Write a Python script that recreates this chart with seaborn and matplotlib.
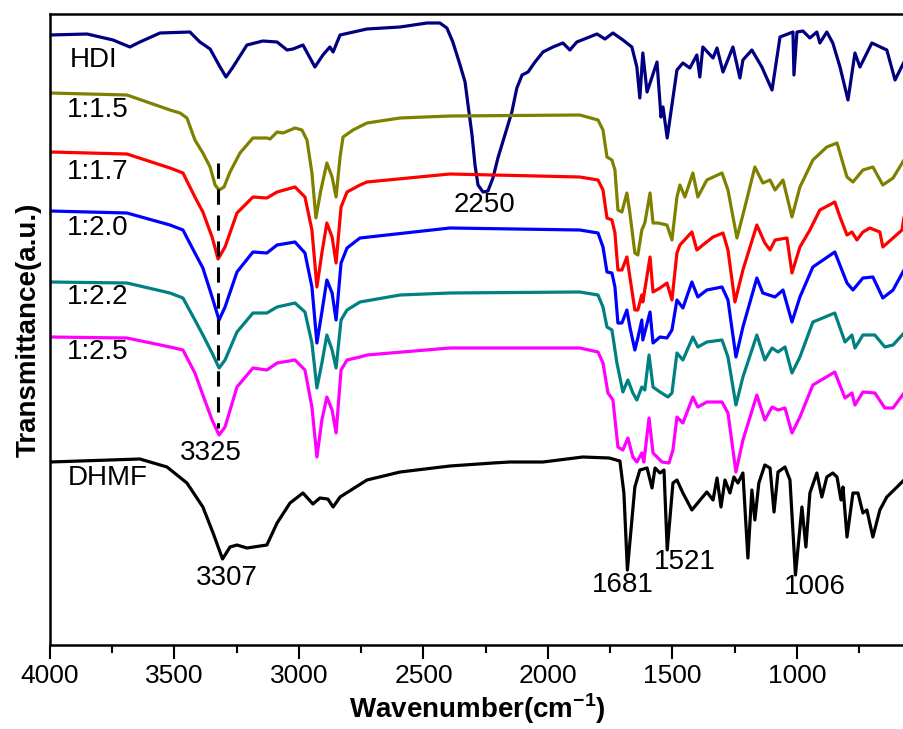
import numpy as np
import seaborn as sns
from matplotlib import pyplot as plt
from matplotlib.ticker import MultipleLocator

# FTIR spectra, wavenumber (cm-1) vs transmittance (a.u., stacked)
hdi_wn = [4000, 3851, 3747, 3679, 3639, 3558, 3438, 3398, 3357, 3317, 3293, 3265, 3209, 3145, 3088, 3048,
          3024, 2984, 2936, 2904, 2876, 2863, 2835, 2727, 2594, 2486, 2434, 2406, 2382, 2353, 2333, 2321,
          2305, 2293, 2281, 2261, 2241, 2221, 2201, 2173, 2145, 2125, 2104, 2080, 2052, 2020, 1980, 1940,
          1912, 1884, 1803, 1771, 1739, 1699, 1663, 1643, 1631, 1619,
          1602, 1590, 1562, 1546, 1538, 1521, 1482, 1458, 1430, 1402, 1390, 1378, 1337, 1321, 1297, 1257,
          1229, 1217, 1181, 1141, 1100, 1068, 1016, 1012, 1000, 976, 948, 920, 908, 880, 856, 827, 795,
          767, 747, 699, 639, 606, 570]
hdi_t = [610, 611, 605, 598, 603, 612, 613, 603, 596, 578, 568, 578, 600, 604, 603, 595,
         596, 600, 578, 590, 598, 593, 610, 616, 618, 622, 622, 617, 603, 580, 563, 540,
         510, 480, 460, 453, 454, 467, 487, 510, 533, 557, 570, 573, 583, 593, 598, 602,
         595, 603, 611, 606, 612, 605, 598, 578, 547, 592,
         553, 562, 583, 528, 538, 507, 575, 582, 577, 590, 568, 598, 587, 597, 573, 598,
         567, 585, 595, 578, 555, 608, 613, 570, 613, 614, 607, 613, 602, 613, 602, 578, 545,
         592, 578, 602, 595, 565, 583]

r15_wn = [4000, 3691, 3518, 3478, 3450, 3418, 3386, 3357, 3337, 3321, 3301, 3277, 3237, 3185, 3129, 3116,
          3088, 3064, 3016, 2988, 2968, 2948, 2932, 2912, 2888, 2867, 2851, 2835, 2823, 2783, 2727, 2594,
          2394, 1872, 1799, 1779, 1763, 1743, 1731, 1719, 1703, 1683, 1671, 1651, 1639, 1623, 1611, 1590,
          1578, 1558, 1522, 1502, 1482, 1470, 1450, 1418, 1398, 1362, 1301, 1277, 1241, 1209, 1169, 1137,
          1108, 1088, 1056, 1020, 988, 936, 880, 839, 799, 775, 735, 695, 655, 614, 570]
r15_t = [552, 550, 535, 532, 527, 505, 492, 478, 460, 455, 458, 473, 492, 507, 507, 506,
         513, 512, 517, 515, 505, 472, 427, 455, 482, 468, 448, 488, 508, 515, 522, 527,
         529, 530, 525, 515, 488, 485, 475, 435, 433, 452, 432, 392, 390, 415, 422, 452,
         422, 422, 420, 405, 448, 460, 448, 472, 448, 465, 472, 455, 407, 438, 478, 462,
         465, 455, 465, 428, 458, 485, 498, 502, 468, 463, 475, 478, 460, 467, 485]

r17_wn = [4000, 3691, 3518, 3466, 3418, 3386, 3349, 3325, 3297, 3249, 3185, 3129, 3088, 3016, 2976, 2948,
          2928, 2908, 2888, 2867, 2851, 2831, 2807, 2755, 2727, 2394, 1872, 1799, 1779, 1763, 1743, 1731,
          1719, 1703, 1683, 1671, 1651, 1639, 1623, 1619, 1590, 1578, 1550, 1522, 1502, 1482, 1470, 1422,
          1402, 1378, 1337, 1297, 1277, 1249, 1217, 1161, 1129, 1108, 1088, 1040, 1020, 988, 948, 908,
          848, 827, 799, 779, 759, 735, 707, 667, 655, 614, 578, 570]
r17_t = [493, 491, 477, 472, 448, 433, 408, 386, 398, 432, 448, 447, 453, 458, 448, 415,
         358, 392, 422, 408, 382, 438, 453, 460, 463, 471, 468, 465, 455, 427, 425, 412,
         375, 375, 388, 368, 335, 335, 350, 343, 388, 353, 357, 362, 345, 392, 400, 413,
         395, 400, 408, 412, 395, 343, 375, 420, 402, 395, 405, 407, 372, 398, 415, 435,
         443, 428, 410, 413, 405, 413, 417, 413, 398, 407, 415, 428]

r20_wn = [4000, 3691, 3518, 3466, 3418, 3386, 3349, 3321, 3297, 3249, 3185, 3129, 3088, 3016, 2976, 2948,
          2928, 2908, 2888, 2867, 2851, 2831, 2807, 2755, 2394, 1872, 1799, 1779, 1763, 1743, 1731, 1719,
          1703, 1683, 1671, 1651, 1639, 1623, 1619, 1590, 1578, 1550, 1522, 1502, 1482, 1458, 1422, 1398,
          1362, 1301, 1277, 1245, 1217, 1161, 1137, 1088, 1056, 1020, 988, 936, 848, 799, 775, 735,
          695, 655, 614, 570]
r20_t = [434, 432, 420, 415, 392, 377, 348, 325, 338, 373, 393, 392, 400, 403, 392, 358,
         302, 333, 365, 352, 325, 382, 397, 407, 417, 415, 412, 398, 373, 372, 358, 322,
         322, 335, 318, 295, 307, 325, 305, 333, 302, 308, 307, 315, 345, 337, 363, 348,
         355, 358, 345, 288, 318, 367, 352, 348, 355, 323, 348, 378, 393, 362, 355, 367,
         368, 347, 355, 375]

r22_wn = [4000, 3691, 3518, 3466, 3418, 3386, 3349, 3321, 3297, 3249, 3185, 3129, 3088, 3016, 2976, 2948,
          2928, 2908, 2888, 2867, 2851, 2831, 2807, 2755, 2594, 2394, 1872, 1799, 1779, 1763, 1743, 1723,
          1699, 1679, 1659, 1643, 1623, 1611, 1594, 1578, 1550, 1518, 1502, 1482, 1458, 1418, 1398, 1362,
          1301, 1277, 1245, 1217, 1161, 1129, 1100, 1076, 1048, 1020, 988, 936, 848, 807, 779, 767,
          735, 687, 647, 614, 570]
r22_t = [363, 362, 352, 347, 325, 310, 292, 277, 285, 313, 332, 332, 338, 342, 333, 302,
         257, 282, 310, 295, 277, 325, 335, 343, 350, 352, 353, 350, 338, 318, 315, 282,
         253, 265, 252, 245, 258, 255, 290, 258, 253, 248, 252, 292, 285, 308, 298, 303,
         305, 288, 240, 268, 310, 285, 297, 293, 298, 272, 288, 323, 332, 303, 310, 297,
         310, 310, 298, 300, 312]

r25_wn = [4000, 3691, 3518, 3466, 3418, 3386, 3349, 3321, 3297, 3249, 3185, 3129, 3088, 3016, 2976, 2948,
          2928, 2908, 2888, 2867, 2851, 2831, 2807, 2755, 2727, 2394, 1872, 1799, 1779, 1759, 1739, 1719,
          1699, 1679, 1659, 1643, 1623, 1615, 1594, 1578, 1542, 1514, 1498, 1482, 1458, 1418, 1398, 1362,
          1301, 1277, 1245, 1217, 1161, 1129, 1100, 1076, 1048, 1020, 988, 936, 848, 807, 779, 767,
          735, 687, 647, 614, 570]
r25_t = [308, 307, 298, 295, 272, 250, 225, 210, 218, 258, 277, 275, 282, 285, 275, 238,
         188, 225, 248, 235, 212, 275, 285, 288, 290, 297, 297, 293, 282, 252, 245, 198,
         195, 207, 188, 183, 192, 183, 227, 192, 183, 182, 195, 228, 222, 248, 238, 243,
         243, 232, 173, 205, 250, 225, 238, 235, 237, 212, 228, 260, 273, 247, 252, 240,
         253, 252, 237, 237, 252]

dhmf_wn = [4000, 3639, 3530, 3450, 3386, 3345, 3307, 3277, 3249, 3209, 3129, 3088, 3036, 2984, 2944, 2916,
           2884, 2863, 2835, 2727, 2594, 2394, 2221, 2153, 2020, 1860, 1754, 1711, 1695, 1681, 1651, 1631,
           1602, 1582, 1570, 1550, 1534, 1521, 1498, 1482, 1458, 1422, 1362, 1337, 1321, 1305, 1289, 1269,
           1253, 1237, 1217, 1197, 1181, 1169, 1153, 1129, 1108, 1092, 1076, 1048, 1028, 1014, 1006, 980,
           964, 948, 920, 900, 880, 856, 839, 823, 815, 799, 775, 755, 735, 719, 695, 667, 639, 598, 570]
dhmf_t = [183, 186, 178, 162, 138, 112, 86, 98, 100, 97, 100, 122, 142, 152, 141, 147,
          146, 138, 148, 165, 173, 179, 182, 183, 183, 188, 187, 184, 152, 75, 158, 175,
          177, 157, 177, 172, 175, 95, 162, 165, 152, 135, 153, 145, 167, 138, 165, 152,
          168, 162, 172, 87, 155, 125, 162, 180, 177, 133, 173, 178, 165, 105, 70, 138,
          98, 152, 172, 148, 168, 172, 168, 145, 158, 108, 152, 152, 132, 135, 108, 135, 148, 158, 165]

series = [
    ("HDI", hdi_wn, hdi_t, "#000080"),
    ("1:1.5", r15_wn, r15_t, "#808000"),
    ("1:1.7", r17_wn, r17_t, "#ff0000"),
    ("1:2.0", r20_wn, r20_t, "#0000ff"),
    ("1:2.2", r22_wn, r22_t, "#008080"),
    ("1:2.5", r25_wn, r25_t, "#ff00ff"),
    ("DHMF", dhmf_wn, dhmf_t, "#000000"),
]

# label positions (wavenumber, transmittance)
label_pos = {"HDI": (3920, 585), "1:1.5": (3932, 535), "1:1.7": (3932, 473), "1:2.0": (3932, 417),
             "1:2.2": (3932, 348), "1:2.5": (3932, 293), "DHMF": (3928, 167)}
peak_labels = [("3325", 3353, 192), ("3307", 3289, 67), ("2250", 2253, 440),
               ("1681", 1699, 60), ("1521", 1450, 83), ("1006", 928, 58)]
dash_wn = 3325
dash_t = [482, 217]

sns.set_theme(style="white")
plt.rcParams['font.family'] = ['Liberation Sans', 'DejaVu Sans']
plt.rcParams['mathtext.fontset'] = 'custom'
plt.rcParams['mathtext.rm'] = 'Liberation Sans'
plt.rcParams['mathtext.bf'] = 'Liberation Sans:bold'
plt.rcParams['text.color'] = 'black'
plt.rcParams['axes.labelcolor'] = 'black'
plt.rcParams['xtick.color'] = 'black'

fig = plt.figure(figsize=(9.04, 7.29), dpi=100)
ax = fig.add_axes([50 / 904, 84 / 729, 854 / 904, 631 / 729])

for name, wn, t, col in series:
    sns.lineplot(x=wn, y=t, color=col, linewidth=2.3, sort=False, estimator=None, ax=ax,
                 solid_joinstyle='round', solid_capstyle='round')
    lx, ly = label_pos[name]
    ax.text(lx, ly, name, fontsize=20, ha='left', va='center', color='black')

ax.plot([dash_wn, dash_wn], dash_t, color='black', linestyle=(0, (5, 3.5)), linewidth=2.2)

for txt, x, y in peak_labels:
    ax.text(x, y, txt, fontsize=20, ha='center', va='center', color='black')

ax.set_xlim(4000, 570)
ax.set_ylim(0, 631)
ax.set_yticks([])
ax.xaxis.set_major_locator(MultipleLocator(500))
ax.xaxis.set_minor_locator(MultipleLocator(250))
ax.tick_params(axis='x', which='major', direction='out', length=10, width=1.5, labelsize=19,
               bottom=True, pad=4, colors='black')
ax.tick_params(axis='x', which='minor', direction='out', length=6, width=1.5, bottom=True)
for s in ['top', 'left', 'bottom']:
    ax.spines[s].set_color('black')
    ax.spines[s].set_linewidth(1.8)
ax.spines['right'].set_visible(False)

ax.set_xlabel(r'Wavenumber(cm$^{\mathbf{-1}}$)', fontsize=20, fontweight='bold', labelpad=2)
ax.set_ylabel('Transmittance(a.u.)', fontsize=20, fontweight='bold', labelpad=6)

fig.savefig('out.png', dpi=100)
